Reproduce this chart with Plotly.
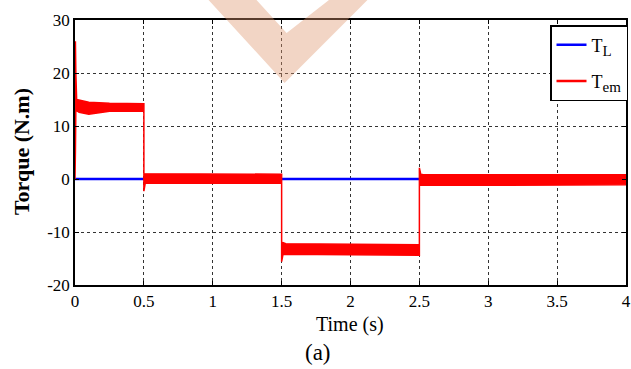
import plotly.graph_objects as go

# Load torque (constant zero) over the simulation window
t_load = [0.0, 4.0]
torque_load = [0.0, 0.0]

# Electromagnetic torque: upper / lower envelope of the ripple band
t_em = [0.000, 0.003, 0.006, 0.012, 0.030, 0.100, 0.250, 0.500, 0.500, 0.510,
        0.530, 1.500, 1.500, 1.510, 1.530, 2.500, 2.500, 2.510, 2.530, 4.000]
torque_em_upper = [0.0, 26.0, 20.0, 15.0, 14.9, 14.5, 14.3, 14.2, 1.0, 1.0,
                   1.0, 0.9, -12.2, -12.0, -12.2, -12.4, 2.1, 0.9, 0.8, 0.8]
torque_em_lower = [0.0, 5.0, 13.0, 13.0, 12.6, 12.2, 12.8, 12.8, -2.3, -0.8,
                   -0.8, -0.8, -15.6, -14.2, -14.3, -14.4, -1.2, -1.1, -1.1, -1.1]

x_ticks = [0, 0.5, 1, 1.5, 2, 2.5, 3, 3.5, 4]
x_ticklabels = ["0", "0.5", "1", "1.5", "2", "2.5", "3", "3.5", "4"]
y_ticks = [-20, -10, 0, 10, 20, 30]
y_ticklabels = ["-20", "-10", "0", "10", "20", "30"]

SERIF = "Liberation Serif"
RED = "#ff0000"
BLUE = "#0000ff"
W, H = 631, 369
ML, MR, MT, MB = 75, 4, 20, 84
PW, PH = W - ML - MR, H - MT - MB


def px_to_paper(px, py):
    return (px - ML) / PW, (H - MB - py) / PH


fig = go.Figure()

fig.add_trace(go.Scatter(
    x=t_load, y=torque_load, mode="lines",
    line=dict(color=BLUE, width=2.5),
    name="T<sub><span style='font-size:15px'>L</span></sub>",
    legendgroup="tl",
))

# Ripple band drawn as a closed polygon: upper edge forward, lower edge back
band_x = t_em + t_em[::-1]
band_y = torque_em_upper + torque_em_lower[::-1]
fig.add_trace(go.Scatter(
    x=band_x, y=band_y, mode="lines", fill="toself",
    fillcolor=RED, line=dict(color=RED, width=1.5),
    showlegend=False, legendgroup="tem", hoverinfo="skip",
))
# Legend entry for the band, shown as a plain line
fig.add_trace(go.Scatter(
    x=[None], y=[None], mode="lines",
    line=dict(color=RED, width=2.5),
    name="T<sub><span style='font-size:15px'>em</span></sub>",
    legendgroup="tem",
))

# Chevron logo in the top area
pts = [(207, -2), (255, -2), (287, 33), (332, -2), (370, -2), (285, 83)]
path = "M " + " L ".join("%.4f,%.4f" % px_to_paper(x, y) for x, y in pts) + " Z"
fig.add_shape(type="path", path=path, xref="paper", yref="paper",
              fillcolor="rgba(222,150,110,0.4)", line=dict(width=0),
              layer="above")

axis_common = dict(
    showline=True, linecolor="black", mirror="allticks",
    ticks="inside", ticklen=4, tickcolor="black",
    showgrid=True, gridcolor="#333333", gridwidth=1, griddash="dot",
    zeroline=False, automargin=False,
    tickfont=dict(family=SERIF, size=17, color="black"),
)

fig.update_xaxes(range=[0, 4], tickvals=x_ticks, ticktext=x_ticklabels,
                 linewidth=2, **axis_common)
fig.update_yaxes(range=[-20, 30], tickvals=y_ticks, ticktext=y_ticklabels,
                 linewidth=1.5, **axis_common)

fig.add_annotation(text="<b>Torque (N.m)</b>", textangle=-90,
                   x=px_to_paper(21, 0)[0], y=px_to_paper(0, 152)[1],
                   xref="paper", yref="paper",
                   showarrow=False, xanchor="center", yanchor="middle",
                   font=dict(family=SERIF, size=22, color="black"))
fig.add_annotation(text="Time (s)",
                   x=px_to_paper(350, 0)[0], y=px_to_paper(0, 324)[1],
                   xref="paper", yref="paper",
                   showarrow=False, xanchor="center", yanchor="middle",
                   font=dict(family=SERIF, size=20, color="black"))
fig.add_annotation(text="(a)",
                   x=px_to_paper(318, 0)[0], y=px_to_paper(0, 352)[1],
                   xref="paper", yref="paper",
                   showarrow=False, xanchor="center", yanchor="middle",
                   font=dict(family=SERIF, size=23, color="black"))

lx, ly = px_to_paper(550, 25)
fig.update_layout(
    width=W, height=H,
    margin=dict(l=ML, r=MR, t=MT, b=MB),
    paper_bgcolor="white", plot_bgcolor="white",
    showlegend=True,
    legend=dict(x=lx, y=ly, xanchor="left", yanchor="top",
                bgcolor="white", bordercolor="black", borderwidth=1.5,
                font=dict(family=SERIF, size=18, color="black"),
                itemwidth=30, tracegroupgap=10),
)

fig.write_html("out.html")
